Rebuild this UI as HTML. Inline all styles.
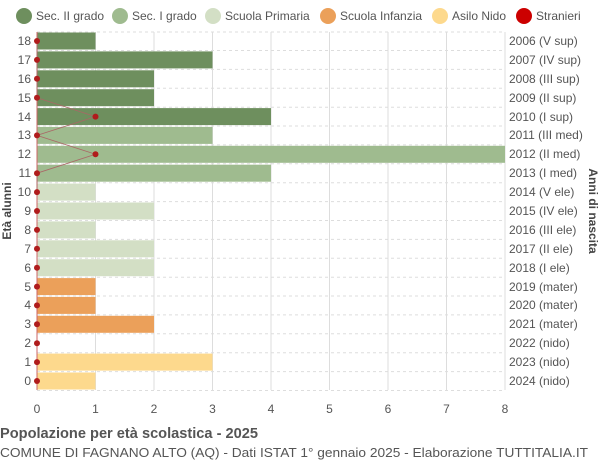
<!DOCTYPE html>
<html><head><meta charset="utf-8"><style>body{margin:0;background:#fff}svg{display:block;font-family:"Liberation Sans",sans-serif}</style></head><body>
<svg width="600" height="460" viewBox="0 0 600 460">
<g font-size="12" fill="#555">
<circle cx="24" cy="16" r="8" fill="#6e8f5e"/><text x="36" y="20">Sec. II grado</text>
<circle cx="120" cy="16" r="8" fill="#9fbb8f"/><text x="132" y="20">Sec. I grado</text>
<circle cx="213" cy="16" r="8" fill="#d3dfc5"/><text x="225" y="20">Scuola Primaria</text>
<circle cx="328" cy="16" r="8" fill="#eba05a"/><text x="340" y="20">Scuola Infanzia</text>
<circle cx="440" cy="16" r="8" fill="#fdd98d"/><text x="452" y="20">Asilo Nido</text>
<circle cx="524" cy="16" r="8" fill="#c00"/><text x="536" y="20">Stranieri</text>
</g>
<g stroke="#ddd" stroke-width="1">
<line x1="95.5" y1="32" x2="95.5" y2="390"/><line x1="154" y1="32" x2="154" y2="390"/><line x1="212.5" y1="32" x2="212.5" y2="390"/><line x1="271" y1="32" x2="271" y2="390"/><line x1="329.5" y1="32" x2="329.5" y2="390"/><line x1="388" y1="32" x2="388" y2="390"/><line x1="446.5" y1="32" x2="446.5" y2="390"/><line x1="505" y1="32" x2="505" y2="390"/>
</g>
<g stroke="#ddd" stroke-dasharray="3,3">
<line x1="37" y1="32" x2="505" y2="32"/><line x1="37" y1="50.5" x2="505" y2="50.5"/><line x1="37" y1="69.4" x2="505" y2="69.4"/><line x1="37" y1="88.3" x2="505" y2="88.3"/><line x1="37" y1="107.2" x2="505" y2="107.2"/><line x1="37" y1="126" x2="505" y2="126"/><line x1="37" y1="144.9" x2="505" y2="144.9"/><line x1="37" y1="163.8" x2="505" y2="163.8"/><line x1="37" y1="182.7" x2="505" y2="182.7"/><line x1="37" y1="201.6" x2="505" y2="201.6"/><line x1="37" y1="220.5" x2="505" y2="220.5"/><line x1="37" y1="239.4" x2="505" y2="239.4"/><line x1="37" y1="258.3" x2="505" y2="258.3"/><line x1="37" y1="277.2" x2="505" y2="277.2"/><line x1="37" y1="296" x2="505" y2="296"/><line x1="37" y1="314.9" x2="505" y2="314.9"/><line x1="37" y1="333.8" x2="505" y2="333.8"/><line x1="37" y1="352.7" x2="505" y2="352.7"/><line x1="37" y1="371.6" x2="505" y2="371.6"/><line x1="37" y1="390.5" x2="505" y2="390.5"/>
</g>
<g>
<rect x="37" y="32.5" width="58.5" height="17" fill="#6e8f5e"/>
<rect x="37" y="51.4" width="175.5" height="17" fill="#6e8f5e"/>
<rect x="37" y="70.3" width="117" height="17" fill="#6e8f5e"/>
<rect x="37" y="89.2" width="117" height="17" fill="#6e8f5e"/>
<rect x="37" y="108.1" width="234" height="17" fill="#6e8f5e"/>
<rect x="37" y="126.9" width="175.5" height="17" fill="#9fbb8f"/>
<rect x="37" y="145.8" width="468" height="17" fill="#9fbb8f"/>
<rect x="37" y="164.7" width="234" height="17" fill="#9fbb8f"/>
<rect x="37" y="183.6" width="58.5" height="17" fill="#d3dfc5"/>
<rect x="37" y="202.5" width="117" height="17" fill="#d3dfc5"/>
<rect x="37" y="221.4" width="58.5" height="17" fill="#d3dfc5"/>
<rect x="37" y="240.3" width="117" height="17" fill="#d3dfc5"/>
<rect x="37" y="259.2" width="117" height="17" fill="#d3dfc5"/>
<rect x="37" y="278.1" width="58.5" height="17" fill="#eba05a"/>
<rect x="37" y="296.9" width="58.5" height="17" fill="#eba05a"/>
<rect x="37" y="315.8" width="117" height="17" fill="#eba05a"/>
<rect x="37" y="353.6" width="175.5" height="17" fill="#fdd98d"/>
<rect x="37" y="372.5" width="58.5" height="17" fill="#fdd98d"/>
</g>
<line x1="37" y1="32" x2="37" y2="390" stroke="#c66" stroke-width="1"/>
<polyline fill="none" stroke="#a66" stroke-width="0.8" points="37,41 37,59.9 37,78.8 37,97.7 95.5,116.6 37,135.4 95.5,154.3 37,173.2 37,192.1"/>
<g fill="#b01c1c">
<circle cx="37" cy="41" r="3"/><circle cx="37" cy="59.9" r="3"/><circle cx="37" cy="78.8" r="3"/><circle cx="37" cy="97.7" r="3"/><circle cx="95.5" cy="116.6" r="3"/><circle cx="37" cy="135.4" r="3"/><circle cx="95.5" cy="154.3" r="3"/><circle cx="37" cy="173.2" r="3"/><circle cx="37" cy="192.1" r="3"/><circle cx="37" cy="211" r="3"/><circle cx="37" cy="229.9" r="3"/><circle cx="37" cy="248.8" r="3"/><circle cx="37" cy="267.7" r="3"/><circle cx="37" cy="286.6" r="3"/><circle cx="37" cy="305.4" r="3"/><circle cx="37" cy="324.3" r="3"/><circle cx="37" cy="343.2" r="3"/><circle cx="37" cy="362.1" r="3"/><circle cx="37" cy="381" r="3"/>
</g>
<g font-size="12" fill="#555" text-anchor="end">
<text x="31" y="45">18</text><text x="31" y="64">17</text><text x="31" y="83">16</text><text x="31" y="102">15</text><text x="31" y="121">14</text><text x="31" y="139">13</text><text x="31" y="158">12</text><text x="31" y="177">11</text><text x="31" y="196">10</text><text x="31" y="215">9</text><text x="31" y="234">8</text><text x="31" y="253">7</text><text x="31" y="272">6</text><text x="31" y="291">5</text><text x="31" y="309">4</text><text x="31" y="328">3</text><text x="31" y="347">2</text><text x="31" y="366">1</text><text x="31" y="385">0</text>
</g>
<g font-size="12" fill="#555">
<text x="509" y="45">2006 (V sup)</text><text x="509" y="64">2007 (IV sup)</text><text x="509" y="83">2008 (III sup)</text><text x="509" y="102">2009 (II sup)</text><text x="509" y="121">2010 (I sup)</text><text x="509" y="139">2011 (III med)</text><text x="509" y="158">2012 (II med)</text><text x="509" y="177">2013 (I med)</text><text x="509" y="196">2014 (V ele)</text><text x="509" y="215">2015 (IV ele)</text><text x="509" y="234">2016 (III ele)</text><text x="509" y="253">2017 (II ele)</text><text x="509" y="272">2018 (I ele)</text><text x="509" y="291">2019 (mater)</text><text x="509" y="309">2020 (mater)</text><text x="509" y="328">2021 (mater)</text><text x="509" y="347">2022 (nido)</text><text x="509" y="366">2023 (nido)</text><text x="509" y="385">2024 (nido)</text>
</g>
<g font-size="12" fill="#555" text-anchor="middle">
<text x="37" y="413">0</text><text x="95.5" y="413">1</text><text x="154" y="413">2</text><text x="212.5" y="413">3</text><text x="271" y="413">4</text><text x="329.5" y="413">5</text><text x="388" y="413">6</text><text x="446.5" y="413">7</text><text x="505" y="413">8</text>
</g>
<text transform="translate(11,211) rotate(-90)" font-size="12" font-weight="bold" fill="#444" text-anchor="middle">Età alunni</text>
<text transform="translate(589,211) rotate(90)" font-size="12" font-weight="bold" fill="#444" text-anchor="middle">Anni di nascita</text>
<text x="0" y="438" font-size="14.5" font-weight="bold" fill="#555" textLength="258" lengthAdjust="spacingAndGlyphs">Popolazione per età scolastica - 2025</text>
<text x="0" y="457" font-size="13" fill="#555" textLength="588" lengthAdjust="spacingAndGlyphs">COMUNE DI FAGNANO ALTO (AQ) - Dati ISTAT 1° gennaio 2025 - Elaborazione TUTTITALIA.IT</text>
</svg>
</body></html>
